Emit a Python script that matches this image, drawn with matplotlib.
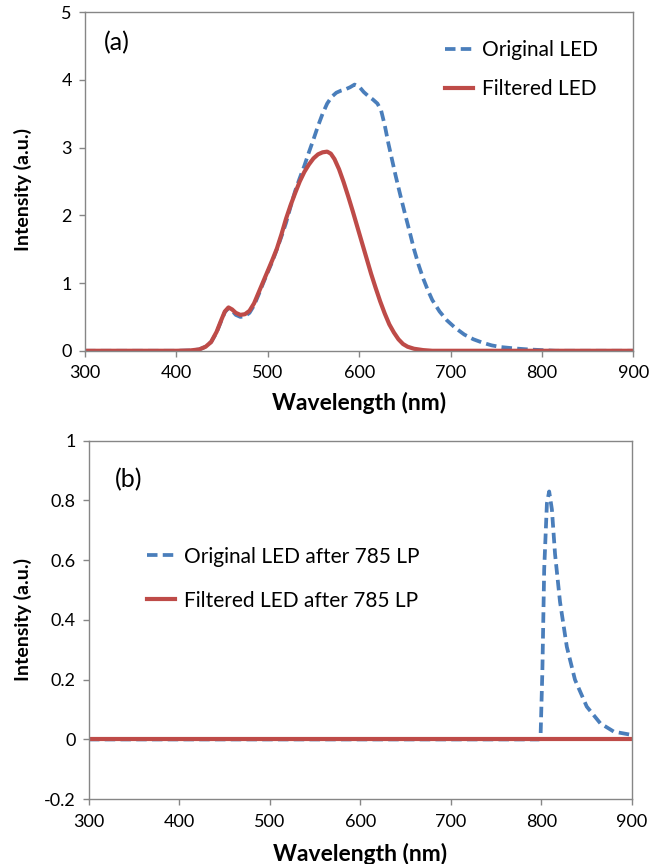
import numpy as np
import matplotlib
matplotlib.use('Agg')
import matplotlib.pyplot as plt

plt.rcParams['font.family'] = ['Lato', 'DejaVu Sans']

# (a) full LED spectra
wl_orig = [300, 400, 415, 425, 432, 438, 444, 449, 453, 457, 461, 465, 470, 475, 480, 485,
           490, 495, 500, 505, 510, 515, 520, 525, 530, 535, 540, 545, 550, 555, 560, 565,
           570, 575, 580, 585, 590, 595, 600, 605, 610, 615, 620, 624, 628, 632, 636, 640,
           645, 650, 655, 660, 665, 670, 675, 680, 688, 696, 705, 715, 725, 735, 745, 755,
           770, 785, 800, 815, 900]
orig_led = [0, 0, 0.005, 0.02, 0.06, 0.13, 0.27, 0.44, 0.57, 0.63, 0.59, 0.53, 0.50, 0.51, 0.56, 0.67,
            0.83, 1.0, 1.16, 1.32, 1.50, 1.69, 1.89, 2.13, 2.36, 2.55, 2.73, 2.93, 3.12, 3.32, 3.50, 3.65,
            3.75, 3.81, 3.84, 3.86, 3.89, 3.93, 3.90, 3.82, 3.76, 3.71, 3.65, 3.55, 3.33, 3.06, 2.82, 2.58,
            2.30, 2.03, 1.77, 1.50, 1.27, 1.07, 0.90, 0.75, 0.58, 0.45, 0.34, 0.24, 0.17, 0.12, 0.08, 0.055,
            0.035, 0.02, 0.01, 0, 0]

wl_filt = [300, 400, 415, 425, 432, 438, 444, 449, 453, 457, 461, 465, 470, 475, 480, 485,
           490, 495, 500, 505, 510, 515, 520, 525, 530, 535, 540, 545, 550, 555, 560, 565,
           569, 573, 578, 583, 588, 593, 598, 603, 608, 613, 618, 623, 628, 633, 638, 643,
           648, 653, 660, 670, 680, 900]
filt_led = [0, 0, 0.005, 0.02, 0.06, 0.13, 0.28, 0.45, 0.58, 0.64, 0.61, 0.56, 0.53, 0.54, 0.59, 0.70,
            0.86, 1.02, 1.18, 1.34, 1.51, 1.72, 1.95, 2.15, 2.33, 2.50, 2.64, 2.75, 2.84, 2.90, 2.93, 2.94,
            2.91, 2.83, 2.68, 2.49, 2.28, 2.06, 1.83, 1.60, 1.37, 1.14, 0.93, 0.73, 0.55, 0.39, 0.27, 0.17,
            0.10, 0.06, 0.03, 0.01, 0, 0]

# (b) after the 785 nm long-pass filter
wl_orig_lp = [300, 797, 799, 801, 803, 806, 808.5, 811.5, 815, 820.5, 828, 837, 850, 865, 880, 900]
orig_lp = [0, 0, 0.01, 0.23, 0.57, 0.79, 0.83, 0.77, 0.62, 0.46, 0.31, 0.20, 0.11, 0.054, 0.026, 0.015]
wl_filt_lp = [300, 900]
filt_lp = [0, 0]

blue = '#4a7ebb'
red = '#be4b48'
grey = '#868686'
dash = (0, (2.8, 1.4))

fig = plt.figure(figsize=(6.59, 8.64), dpi=100)
ax1 = fig.add_axes([0.129, 0.594, 0.832, 0.392])
ax2 = fig.add_axes([0.135, 0.075, 0.824, 0.415])


def style(ax, xlab_y, ylab_x, ylab_y):
    for s in ax.spines.values():
        s.set_color(grey)
        s.set_linewidth(1.0)
    ax.tick_params(direction='out', length=4.5, width=1, color=grey, labelsize=13,
                   labelcolor='black')
    ax.tick_params(axis='x', pad=6)
    ax.tick_params(axis='y', pad=5)
    ax.set_xlim(300, 900)
    ax.set_xticks(np.arange(300, 901, 100))
    ax.set_xlabel('Wavelength (nm)', fontsize=16.5, fontweight='bold')
    ax.set_ylabel('Intensity (a.u.)', fontsize=14, fontweight='bold')
    ax.xaxis.set_label_coords(0.5, xlab_y)
    ax.yaxis.set_label_coords(ylab_x, ylab_y)


def add_legend(ax, x, y, spacing):
    ax.legend(loc='upper left', bbox_to_anchor=(x, y), frameon=False, fontsize=15,
              borderaxespad=0, borderpad=0, handlelength=1.35, handletextpad=0.4,
              labelspacing=spacing)


ax1.plot(wl_orig, orig_led, color=blue, lw=2.7, ls=dash, label='Original LED')
ax1.plot(wl_filt, filt_led, color=red, lw=3, label='Filtered LED', solid_joinstyle='round')
ax1.set_ylim(0, 5)
ax1.set_yticks(range(0, 6))
style(ax1, -0.121, -0.097, 0.475)
ax1.text(0.035, 0.909, '(a)', transform=ax1.transAxes, fontsize=18, va='center')
add_legend(ax1, 0.657, 0.917, 0.9)

ax2.plot(wl_orig_lp, orig_lp, color=blue, lw=2.7, ls=dash, label='Original LED after 785 LP')
ax2.plot(wl_filt_lp, filt_lp, color=red, lw=3, label='Filtered LED after 785 LP')
ax2.set_ylim(-0.2, 1)
ax2.set_yticks([-0.2, 0, 0.2, 0.4, 0.6, 0.8, 1])
ax2.set_yticklabels(['-0.2', '0', '0.2', '0.4', '0.6', '0.8', '1'])
style(ax2, -0.123, -0.105, 0.5)
ax2.text(0.048, 0.891, '(b)', transform=ax2.transAxes, fontsize=18, va='center')
add_legend(ax2, 0.107, 0.704, 1.15)

fig.savefig('out.png', dpi=100)
